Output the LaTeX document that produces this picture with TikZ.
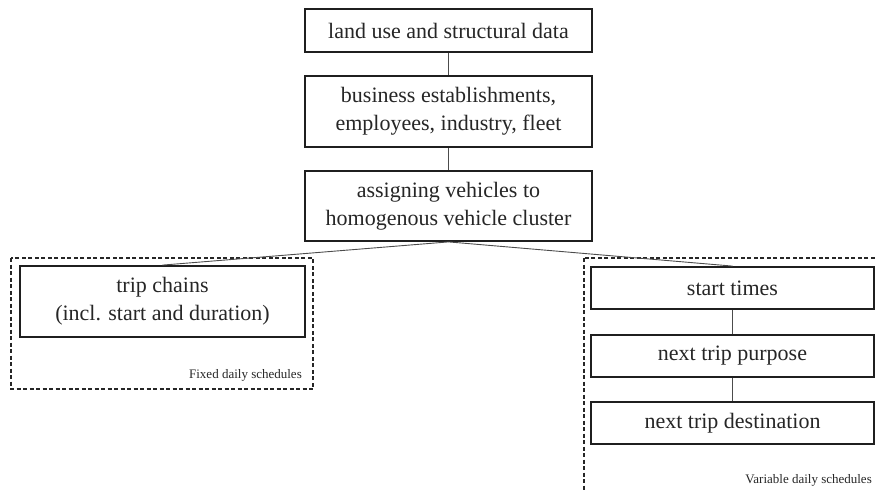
\documentclass[tikz,border=0pt]{standalone}
\usepackage{fontspec}
\setmainfont{Liberation Serif}
\begin{document}
\begin{tikzpicture}[x=1pt,y=-1pt,
  box/.style={draw=black!88,line width=1.8pt,fill=white,inner sep=0pt,
    align=center,text=black!85,font=\fontsize{22}{28}\selectfont},
  link/.style={draw=black!70,line width=0.9pt},
  group/.style={draw=black!85,line width=1.6pt,dash pattern=on 4pt off 2.5pt},
  note/.style={inner sep=0pt,text=black!85,font=\fontsize{13}{15}\selectfont}]
\useasboundingbox (0,0) rectangle (875,492);
\clip (0,0) rectangle (875,492);

% dashed frames around the two schedule variants
\draw[group] (11,258) rectangle (313,389);
\draw[group] (584,258) rectangle (890,510);

% main chain
\node[box,minimum width=287,minimum height=43] (land) at (448.5,30.5) {land use and structural data};
\node[box,minimum width=287,minimum height=71] (biz) at (448.5,111.5) {business establishments,\\employees, industry, fleet};
\node[box,minimum width=287,minimum height=70] (assign) at (448.5,206) {assigning vehicles to\\homogenous vehicle cluster};

% fixed schedules
\node[box,minimum width=285,minimum height=71] (chains) at (162.5,301.5) {trip chains\\(incl. start and duration)};
\node[note,anchor=south east] (fixed) at (302,382) {Fixed daily schedules};

% variable schedules
\node[box,minimum width=283,minimum height=42] (start) at (732.5,288) {start times};
\node[box,minimum width=283,minimum height=42] (purpose) at (732.5,356) {next trip purpose};
\node[box,minimum width=283,minimum height=42] (dest) at (732.5,423) {next trip destination};
\node[note,anchor=south east] (variable) at (872,487) {Variable daily schedules};

% connectors
\draw[link] (land) -- (biz);
\draw[link] (biz) -- (assign);
\draw[link] (assign.south) -- (chains.north);
\draw[link] (assign.south) -- (start.north);
\draw[link] (start) -- (purpose);
\draw[link] (purpose) -- (dest);
\end{tikzpicture}
\end{document}
